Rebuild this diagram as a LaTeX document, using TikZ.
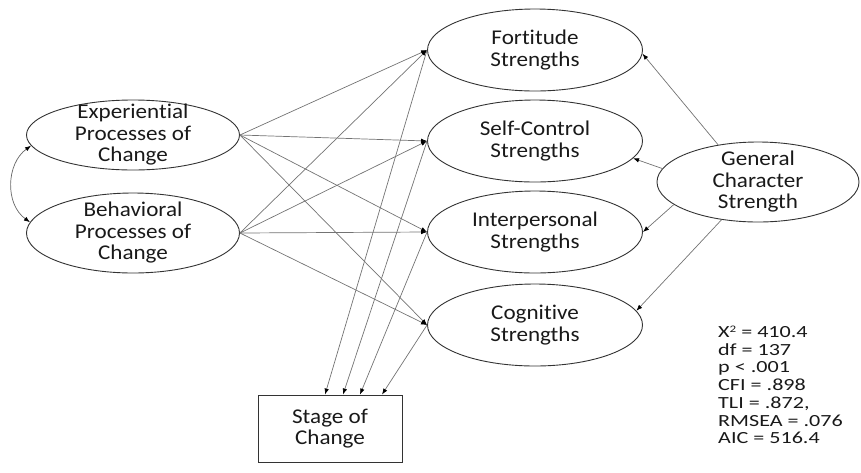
\documentclass[tikz,border=0pt]{standalone}
\usepackage{fontspec}
\setmainfont{Carlito}[FakeStretch=1.1,Ligatures=NoCommon]
\newfontfamily\statfont{Carlito}[FakeStretch=1.3,Ligatures=NoCommon]
\usetikzlibrary{shapes.geometric,arrows.meta}
\begin{document}
\begin{tikzpicture}[x=1pt,y=-1pt,
  ell/.style={ellipse,draw=black!80,line width=0.9pt,inner sep=0pt},
  txt/.style={font=\fontsize{21}{21.5}\selectfont,align=center,inner sep=0pt,text=black!90},
  stats/.style={font=\statfont\fontsize{17}{17.7}\selectfont,align=left,inner sep=0pt,text=black!90},
  arr/.style={draw=black!55,line width=0.7pt,-{Latex[length=6pt,width=4.5pt,color=black]}},
  dbl/.style={draw=black!60,line width=0.7pt,{Latex[length=6pt,width=4.5pt,color=black]}-{Latex[length=6pt,width=4.5pt,color=black]}},
  boxnode/.style={rectangle,draw=black!80,line width=0.9pt,minimum width=144pt,minimum height=67pt,inner sep=0pt,font=\fontsize{21}{21}\selectfont,align=center,text=black!90}
]
\useasboundingbox (0,0) rectangle (861,472);

% left latent variables
\node[ell,minimum width=213pt,minimum height=70pt,label={[txt]center:Experiential\\Processes of\\Change}] (exp) at (133,135) {};
\node[ell,minimum width=213pt,minimum height=80pt,label={[txt]center:Behavioral\\Processes of\\Change}] (beh) at (133,233) {};

% middle strengths
\node[ell,minimum width=215pt,minimum height=82pt,label={[txt]center:Fortitude\\Strengths}] (fort) at (535,50) {};
\node[ell,minimum width=215pt,minimum height=82pt,label={[txt]center:Self-Control\\Strengths}] (sc) at (535,141) {};
\node[ell,minimum width=215pt,minimum height=82pt,label={[txt]center:Interpersonal\\Strengths}] (ip) at (535,232) {};
\node[ell,minimum width=215pt,minimum height=82pt,label={[txt]center:Cognitive\\Strengths}] (cog) at (535,325) {};

% general
\node[ell,minimum width=202pt,minimum height=80pt,label={[txt]center:General\\Character\\Strength}] (gen) at (758,182) {};

% stage of change
\node[boxnode] (stage) at (330,428.5) {Stage of\\Change};

% fit statistics
\node[stats,anchor=west] (fit) at (718,385) {X{\fontsize{10}{10}\selectfont\raisebox{5pt}{2}} = 410.4\\df = 137\\p < .001\\CFI = .898\\TLI = .872,\\RMSEA = .076\\AIC = 516.4};

% correlation
\draw[dbl] (exp.186) .. controls +(-25,18) and +(-25,-18) .. (beh.174);

% processes -> strengths
\foreach \s in {fort,sc,ip,cog}{
  \draw[arr] (exp.east) -- (\s.west);
  \draw[arr] (beh.east) -- (\s.west);
}

% strengths -> stage
\draw[arr] (fort.west) -- ([xshift=-5pt]stage.north);
\draw[arr] (sc.west) -- ([xshift=13pt]stage.north);
\draw[arr] (ip.west) -- ([xshift=30pt]stage.north);
\draw[arr] (cog.west) -- ([xshift=52pt]stage.north);

% general -> strengths
\draw[arr] (gen.137) -- (fort.358);
\draw[arr] (gen.172) -- (sc.-10);
\draw[arr] (gen.195) -- (ip.east);
\draw[arr] (gen.226) -- (cog.8);
\end{tikzpicture}
\end{document}
